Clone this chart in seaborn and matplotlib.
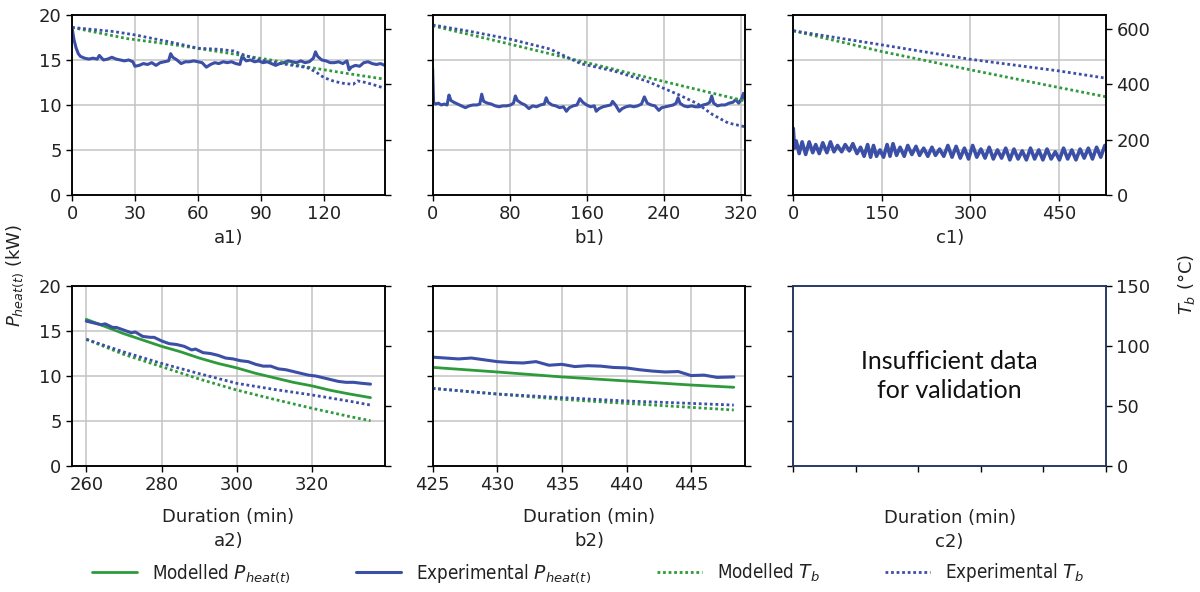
import numpy as np
import matplotlib
matplotlib.use("Agg")
import matplotlib.pyplot as plt
import seaborn as sns

# ---------------- a1) full heating run, first test ----------------
a1_time = [0, 1, 2, 3, 4, 6, 8, 10, 12, 13, 15, 17, 19, 21, 23, 25, 27, 29, 30, 32,
           34, 36, 38, 40, 42, 44, 46, 47, 48, 50, 52, 54, 56, 58, 60, 62, 64, 66, 68, 70,
           72, 74, 76, 78, 80, 81, 83, 85, 87, 89, 91, 93, 95, 97, 99, 101, 103, 105, 107, 109,
           111, 113, 115, 116, 117, 119, 121, 123, 125, 127, 129, 131, 132, 133, 135, 137, 139, 141, 143, 145,
           147, 149]
a1_power_exp = [18.6, 17.2, 16.3, 15.7, 15.4, 15.2, 15.1, 15.2, 15.1, 15.5, 15.0, 15.1, 15.3, 15.1, 15.0, 14.9, 15.0, 14.8, 14.3, 14.4,
                14.6, 14.5, 14.7, 14.4, 14.7, 14.8, 14.9, 15.7, 15.3, 15.0, 14.6, 14.8, 14.8, 14.9, 14.8, 14.7, 14.2, 14.5, 14.7, 14.6,
                14.8, 14.7, 14.8, 14.6, 14.5, 15.4, 14.9, 15.0, 14.8, 14.9, 14.7, 14.8, 14.6, 14.4, 14.6, 14.7, 14.9, 14.8, 14.7, 14.9,
                14.7, 14.8, 15.2, 15.9, 15.4, 15.0, 14.9, 14.7, 14.7, 14.8, 14.6, 14.9, 13.9, 14.2, 14.4, 14.3, 14.7, 14.8, 14.6, 14.5,
                14.6, 14.4]
a1_tb_exp_time = [0, 20, 30, 47, 60, 70, 77, 82, 90, 100, 112, 116, 120, 125, 130, 134, 136, 140, 145, 149]
a1_tb_exp = [605, 590, 578, 552, 530, 526, 520, 505, 486, 474, 460, 445, 424, 410, 402, 400, 412, 406, 395, 385]
a1_tb_mod_time = [0, 26, 50, 73, 95, 112, 130, 149]
a1_tb_mod = [605, 565, 541, 514, 487, 462, 440, 418]

# ---------------- b1) full heating run, second test ----------------
b1_time = [0, 1, 3, 6, 9, 12, 15, 17, 19, 22, 26, 30, 34, 38, 42, 46, 49, 51, 53, 57,
           61, 65, 69, 73, 77, 81, 84, 86, 88, 92, 96, 100, 104, 108, 112, 116, 118, 120, 124, 128,
           132, 136, 139, 142, 146, 150, 153, 156, 160, 164, 168, 170, 173, 177, 181, 185, 187, 190, 194, 197,
           201, 205, 209, 213, 217, 220, 223, 227, 231, 235, 238, 242, 246, 250, 253, 255, 257, 261, 265, 269,
           273, 277, 281, 285, 288, 290, 292, 296, 300, 304, 308, 312, 315, 318, 321, 323, 325]
b1_power_exp = [14.0, 10.3, 10.1, 10.2, 10.0, 10.1, 10.0, 11.1, 10.5, 10.3, 10.1, 9.9, 9.7, 9.9, 10.0, 10.0, 10.1, 11.2, 10.4, 10.2,
                10.1, 9.9, 9.8, 9.9, 9.9, 10.0, 10.2, 11.0, 10.5, 10.2, 10.0, 9.6, 9.9, 9.8, 10.0, 10.1, 10.8, 10.3, 10.0, 9.9,
                9.7, 9.8, 9.3, 9.7, 9.9, 10.0, 10.7, 10.3, 10.0, 9.8, 9.9, 9.3, 9.6, 9.8, 9.9, 10.0, 10.4, 10.0, 9.3, 9.6,
                9.8, 9.9, 9.8, 9.9, 10.1, 10.9, 10.2, 10.0, 9.9, 9.4, 9.7, 9.8, 9.9, 10.0, 10.2, 10.8, 10.2, 9.9, 9.8, 9.9,
                9.8, 9.8, 10.0, 10.1, 10.3, 11.0, 10.2, 9.9, 10.0, 10.0, 10.2, 10.3, 10.6, 10.2, 10.7, 11.3, 10.4]
b1_tb_exp_time = [0, 40, 80, 122, 154, 188, 222, 255, 275, 291, 307, 325]
b1_tb_exp = [614, 590, 563, 527, 474, 448, 412, 363, 330, 290, 260, 246]
b1_tb_mod_time = [0, 80, 160, 240, 325]
b1_tb_mod = [611, 545, 478, 410, 339]

# ---------------- c1) full heating run, third test ----------------
c1_time = [0, 2, 5, 10, 15, 21, 27, 33, 38, 44, 50, 57, 63, 69, 75, 82, 88, 95, 101, 108,
           114, 120, 126, 131, 136, 141, 147, 153, 159, 164, 169, 175, 181, 188, 194, 201, 208, 214, 221, 228,
           235, 241, 248, 255, 262, 269, 276, 283, 290, 297, 304, 311, 318, 325, 332, 339, 346, 353, 360, 367,
           374, 381, 388, 395, 402, 409, 416, 423, 430, 437, 444, 451, 458, 465, 472, 479, 486, 493, 500, 507,
           514, 521, 528]
c1_power_exp = [7.4, 5.2, 6.0, 4.6, 5.9, 4.5, 5.9, 4.7, 5.6, 4.6, 5.8, 4.7, 5.9, 4.8, 5.5, 4.8, 5.6, 4.9, 5.7, 4.6,
                5.3, 4.3, 5.6, 4.2, 5.5, 4.3, 5.0, 4.2, 5.6, 4.3, 5.7, 4.4, 5.3, 4.3, 5.5, 4.5, 5.4, 4.4, 5.2, 4.3,
                5.3, 4.4, 5.1, 4.3, 5.5, 4.2, 5.4, 4.1, 5.2, 4.0, 5.5, 4.2, 5.1, 4.1, 5.3, 4.0, 5.0, 4.1, 5.2, 3.9,
                5.1, 4.0, 4.9, 3.9, 5.2, 4.0, 5.0, 3.9, 5.1, 4.0, 4.8, 3.9, 5.2, 4.0, 5.0, 3.9, 5.1, 4.1, 5.2, 4.0,
                5.3, 4.2, 5.5]
c1_tb_time = [0, 150, 300, 450, 529]
c1_tb_exp = [593, 542, 490, 448, 422]
c1_tb_mod = [593, 518, 452, 388, 355]

# ---------------- a2) validation window, first test ----------------
a2_time = [260, 262, 264, 265, 267, 268, 270, 272, 273, 275, 277, 278, 280, 282, 284, 286, 288, 289, 291, 293,
           295, 297, 299, 301, 303, 305, 307, 309, 311, 313, 315, 317, 319, 321, 323, 325, 327, 329, 331, 333,
           335.5]
a2_power_exp = [16.1, 15.9, 15.7, 15.8, 15.4, 15.4, 15.1, 14.8, 14.9, 14.4, 14.3, 14.3, 13.9, 13.6, 13.5, 13.3, 12.9, 13.0, 12.6, 12.5,
                12.3, 12.0, 11.9, 11.7, 11.6, 11.3, 11.1, 11.1, 10.8, 10.7, 10.5, 10.3, 10.1, 10.0, 9.8, 9.6, 9.4, 9.3, 9.3, 9.2,
                9.1]
a2_mod_time = [260, 265, 270, 275, 280, 285, 290, 295, 300, 305, 310, 315, 320, 325, 330, 335.5]
a2_power_mod = [16.3, 15.5, 14.7, 14.0, 13.3, 12.7, 12.0, 11.4, 10.9, 10.3, 9.8, 9.3, 8.9, 8.4, 8.0, 7.6]
a2_tb_time = [260, 270, 280, 290, 300, 310, 320, 330, 335.5]
a2_tb_exp = [105.6, 95.0, 85.5, 77.0, 68.9, 63.8, 59.2, 54.0, 50.8]
a2_tb_mod = [105.6, 93.0, 82.8, 72.5, 63.3, 55.5, 48.1, 41.2, 37.8]

# ---------------- b2) validation window, second test ----------------
b2_time = [425, 426, 427, 428, 429, 430, 431, 432, 433, 434, 435, 436, 437, 438, 439, 440,
           441, 442, 443, 444, 445, 446, 447, 448.3]
b2_power_exp = [12.1, 12.0, 11.9, 12.0, 11.8, 11.6, 11.5, 11.45, 11.6, 11.2, 11.3, 11.05, 11.15, 11.1, 10.95, 10.9,
                10.7, 10.55, 10.45, 10.5, 10.05, 10.1, 9.85, 9.9]
b2_mod_time = [425, 430, 435, 440, 445, 448.3]
b2_power_mod = [10.96, 10.45, 9.9, 9.45, 9.0, 8.75]
b2_tb_exp = [64.7, 60.0, 57.0, 54.2, 52.2, 50.8]
b2_tb_mod = [64.7, 60.0, 55.6, 52.2, 48.9, 46.7]

# ---------------- ticks ----------------
power_ticks = [0, 5, 10, 15, 20]
temp_ticks_top = [0, 200, 400, 600]
temp_ticks_bottom = [0, 50, 100, 150]

GREEN = "#2e9a3c"
BLUE = "#3b4fa6"
NAVY = "#22355c"
DOT = (0, (1, 1))

sns.set_theme(style="ticks", rc={
    "axes.edgecolor": "black",
    "axes.linewidth": 1.1,
    "xtick.color": "black",
    "ytick.color": "black",
    "xtick.major.size": 4,
    "ytick.major.size": 4,
    "xtick.major.width": 1.0,
    "ytick.major.width": 1.0,
    "xtick.labelsize": 13,
    "ytick.labelsize": 13,
    "axes.labelsize": 13,
    "text.color": "#222222",
    "axes.labelcolor": "#222222",
    "grid.color": "#c4c4c4",
    "grid.linewidth": 1.1,
})
plt.rcParams["font.family"] = ["DejaVu Sans"]
plt.rcParams["xtick.labelcolor"] = "#222222"
plt.rcParams["ytick.labelcolor"] = "#222222"


def draw(ax, x, y, color, lw, dotted=False, label=None):
    kw = {"linestyle": DOT, "dash_capstyle": "butt"} if dotted else {}
    sns.lineplot(x=x, y=y, ax=ax, color=color, linewidth=lw, label=label,
                 legend=False, estimator=None, sort=False, **kw)


fig, axes = plt.subplots(2, 3, figsize=(12, 5.92), dpi=100)
fig.subplots_adjust(left=0.06, right=0.9217, bottom=0.2128, top=0.9747,
                    wspace=0.153, hspace=0.506)

panels_top = [
    (axes[0, 0], a1_time, a1_power_exp, a1_tb_exp_time, a1_tb_exp, a1_tb_mod_time, a1_tb_mod,
     (0, 149), [0, 30, 60, 90, 120], "a1)", 2.2),
    (axes[0, 1], b1_time, b1_power_exp, b1_tb_exp_time, b1_tb_exp, b1_tb_mod_time, b1_tb_mod,
     (0, 325), [0, 80, 160, 240, 320], "b1)", 2.2),
    (axes[0, 2], c1_time, c1_power_exp, c1_tb_time, c1_tb_exp, c1_tb_time, c1_tb_mod,
     (0, 530), [0, 150, 300, 450], "c1)", 2.6),
]

for i, (ax, t, p, tte, tbe, ttm, tbm, xl, xt, tag, plw) in enumerate(panels_top):
    draw(ax, t, p, BLUE, plw)
    ax.set_xlim(*xl)
    ax.set_xticks(xt)
    ax.set_ylim(0, 20)
    ax.set_yticks(power_ticks)
    ax.grid(True)
    ax.set_axisbelow(True)
    ax.tick_params(labelleft=(i == 0))
    ax.set_xlabel(tag, labelpad=4)
    ax.set_ylabel("")
    tw = ax.twinx()
    draw(tw, ttm, tbm, GREEN, 2.0, dotted=True)
    draw(tw, tte, tbe, BLUE, 2.0, dotted=True)
    tw.set_ylim(0, 650)
    tw.set_yticks(temp_ticks_top)
    tw.grid(False)
    tw.tick_params(labelright=(i == 2))
    tw.set_ylabel("")

panels_bottom = [
    (axes[1, 0], a2_time, a2_power_exp, a2_mod_time, a2_power_mod, a2_tb_time, a2_tb_exp, a2_tb_mod,
     (256.2, 339.3), [260, 280, 300, 320], "a2)"),
    (axes[1, 1], b2_time, b2_power_exp, b2_mod_time, b2_power_mod, b2_mod_time, b2_tb_exp, b2_tb_mod,
     (425, 449.2), [425, 430, 435, 440, 445], "b2)"),
]

legend_handles = None
for i, (ax, t, pe, tm, pm, tt, tbe, tbm, xl, xt, tag) in enumerate(panels_bottom):
    draw(ax, tm, pm, GREEN, 2.0, label=r"Modelled $P_{heat(t)}$")
    draw(ax, t, pe, BLUE, 2.2, label=r"Experimental $P_{heat(t)}$")
    ax.set_xlim(*xl)
    ax.set_xticks(xt)
    ax.set_ylim(0, 20)
    ax.set_yticks(power_ticks)
    ax.grid(True)
    ax.set_axisbelow(True)
    ax.tick_params(labelleft=(i == 0))
    ax.set_xlabel("Duration (min)\n" + tag, labelpad=10, linespacing=1.4)
    ax.set_ylabel("")
    tw = ax.twinx()
    draw(tw, tt, tbm, GREEN, 2.0, dotted=True, label=r"Modelled $T_b$")
    draw(tw, tt, tbe, BLUE, 2.0, dotted=True, label=r"Experimental $T_b$")
    tw.set_ylim(0, 150)
    tw.set_yticks(temp_ticks_bottom)
    tw.grid(False)
    tw.tick_params(labelright=False)
    tw.set_ylabel("")
    if i == 0:
        h1, l1 = ax.get_legend_handles_labels()
        h2, l2 = tw.get_legend_handles_labels()
        legend_handles = (h1 + h2, l1 + l2)

# c2) no validation window available
ax = axes[1, 2]
ax.set_xlim(0, 1)
ax.set_xticks(np.linspace(0, 1, 6))
ax.set_ylim(0, 20)
ax.set_yticks(power_ticks)
ax.grid(False)
ax.tick_params(labelleft=False, labelbottom=False)
ax.set_xlabel("Duration (min)\nc2)", labelpad=27, linespacing=1.4)
for s in ax.spines.values():
    s.set_color(NAVY)
ax.text(0.5, 0.5, "Insufficient data\nfor validation", transform=ax.transAxes,
        ha="center", va="center", fontsize=18, family=["Lato", "DejaVu Sans"],
        color="#111111", linespacing=1.3)
tw = ax.twinx()
tw.set_ylim(0, 150)
tw.set_yticks(temp_ticks_bottom)
tw.grid(False)
for s in tw.spines.values():
    s.set_color(NAVY)

# shared axis titles
fig.text(0.013, 0.534, r"$P_{heat(t)}$ (kW)", rotation=90, ha="center", va="center",
         fontsize=13, color="#222222")
fig.text(0.989, 0.52, r"$T_b$ (°C)", rotation=90, ha="center", va="center",
         fontsize=13, color="#222222")

handles, labels = legend_handles
fig.legend(handles, labels, loc="center", bbox_to_anchor=(0.49, 0.032), ncol=4,
           frameon=False, handlelength=2.4, columnspacing=3.5, handletextpad=0.8,
           prop={"family": "DejaVu Sans", "stretch": "condensed", "size": 13.5})

fig.savefig("out.png", dpi=100)
